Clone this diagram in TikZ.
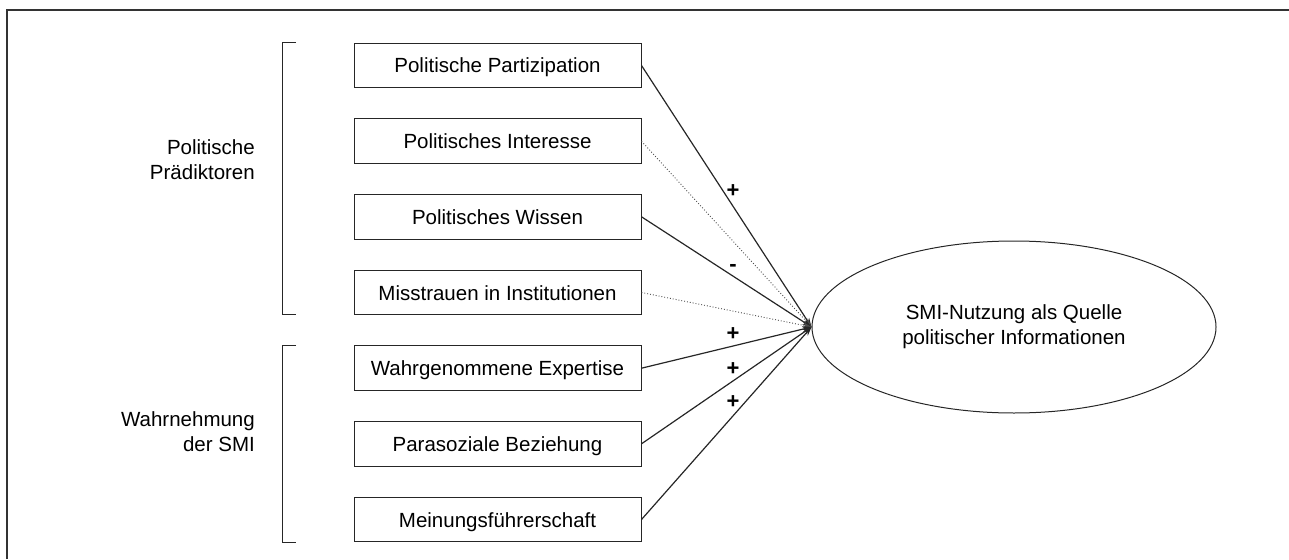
\documentclass[tikz,border=0pt]{standalone}
\usepackage{fontspec}
\setmainfont{Liberation Sans}
\usetikzlibrary{shapes.geometric,arrows.meta}
\tikzset{
  predbox/.style={draw=black!85,line width=1pt,minimum width=287pt,minimum height=44.5pt,inner sep=0pt,text depth=0pt,text height=15pt,font=\fontsize{20.5}{25}\selectfont},
  solidcon/.style={draw=black!85,line width=1.2pt,-{Stealth[length=9pt,width=6pt]}},
  dotcon/.style={draw=black!70,line width=0.9pt,dotted,-{Stealth[length=9pt,width=6pt]}},
  brk/.style={draw=black!85,line width=1pt},
  sign/.style={font=\fontsize{22}{24}\selectfont\bfseries,inner sep=0pt},
  grouplabel/.style={align=right,anchor=east,font=\fontsize{20.5}{25}\selectfont,inner sep=0pt},
}
\begin{document}
\begin{tikzpicture}[x=1pt,y=-1pt]
\useasboundingbox (0,0) rectangle (1289,559);
% frame (top and left edges)
\draw[draw=black!80,line width=1.5pt] (7,559) -- (7,10) -- (1289,10);
% boxes
\node[predbox] (b1) at (497.5,65.5) {Politische Partizipation};
\node[predbox] (b2) at (497.5,141.2) {Politisches Interesse};
\node[predbox] (b3) at (497.5,216.8) {Politisches Wissen};
\node[predbox] (b4) at (497.5,292.5) {Misstrauen in Institutionen};
\node[predbox] (b5) at (497.5,368.2) {Wahrgenommene Expertise};
\node[predbox] (b6) at (497.5,443.8) {Parasoziale Beziehung};
\node[predbox] (b7) at (497.5,519.5) {Meinungsführerschaft};
% ellipse
\node[ellipse,draw=black!85,line width=1pt,minimum width=404pt,minimum height=172pt,inner sep=0pt,align=center,font=\fontsize{20.5}{25}\selectfont] (dv) at (1014,327) {SMI-Nutzung als Quelle\\politischer Informationen};
% brackets
\draw[brk] (296,43) -- (282,43) -- (282,314.5) -- (296,314.5);
\draw[brk] (296,345.5) -- (282,345.5) -- (282,542) -- (296,542);
% group labels
\node[grouplabel] (g1) at (255,160) {Politische\\Prädiktoren};
\node[grouplabel] (g2) at (255,432) {Wahrnehmung\\der SMI};
% connectors
\draw[solidcon] (b1.east) -- (dv.west);
\draw[dotcon] (b2.east) -- (dv.west);
\draw[solidcon] (b3.east) -- (dv.west);
\draw[dotcon] (b4.east) -- (dv.west);
\draw[solidcon] (b5.east) -- (dv.west);
\draw[solidcon] (b6.east) -- (dv.west);
\draw[solidcon] (b7.east) -- (dv.west);
% signs
\node[sign] (s1) at (733,191) {+};
\node[sign] (s3) at (733,268) {-};
\node[sign] (s5) at (733,334) {+};
\node[sign] (s6) at (733,369) {+};
\node[sign] (s7) at (733,402) {+};
\end{tikzpicture}
\end{document}
